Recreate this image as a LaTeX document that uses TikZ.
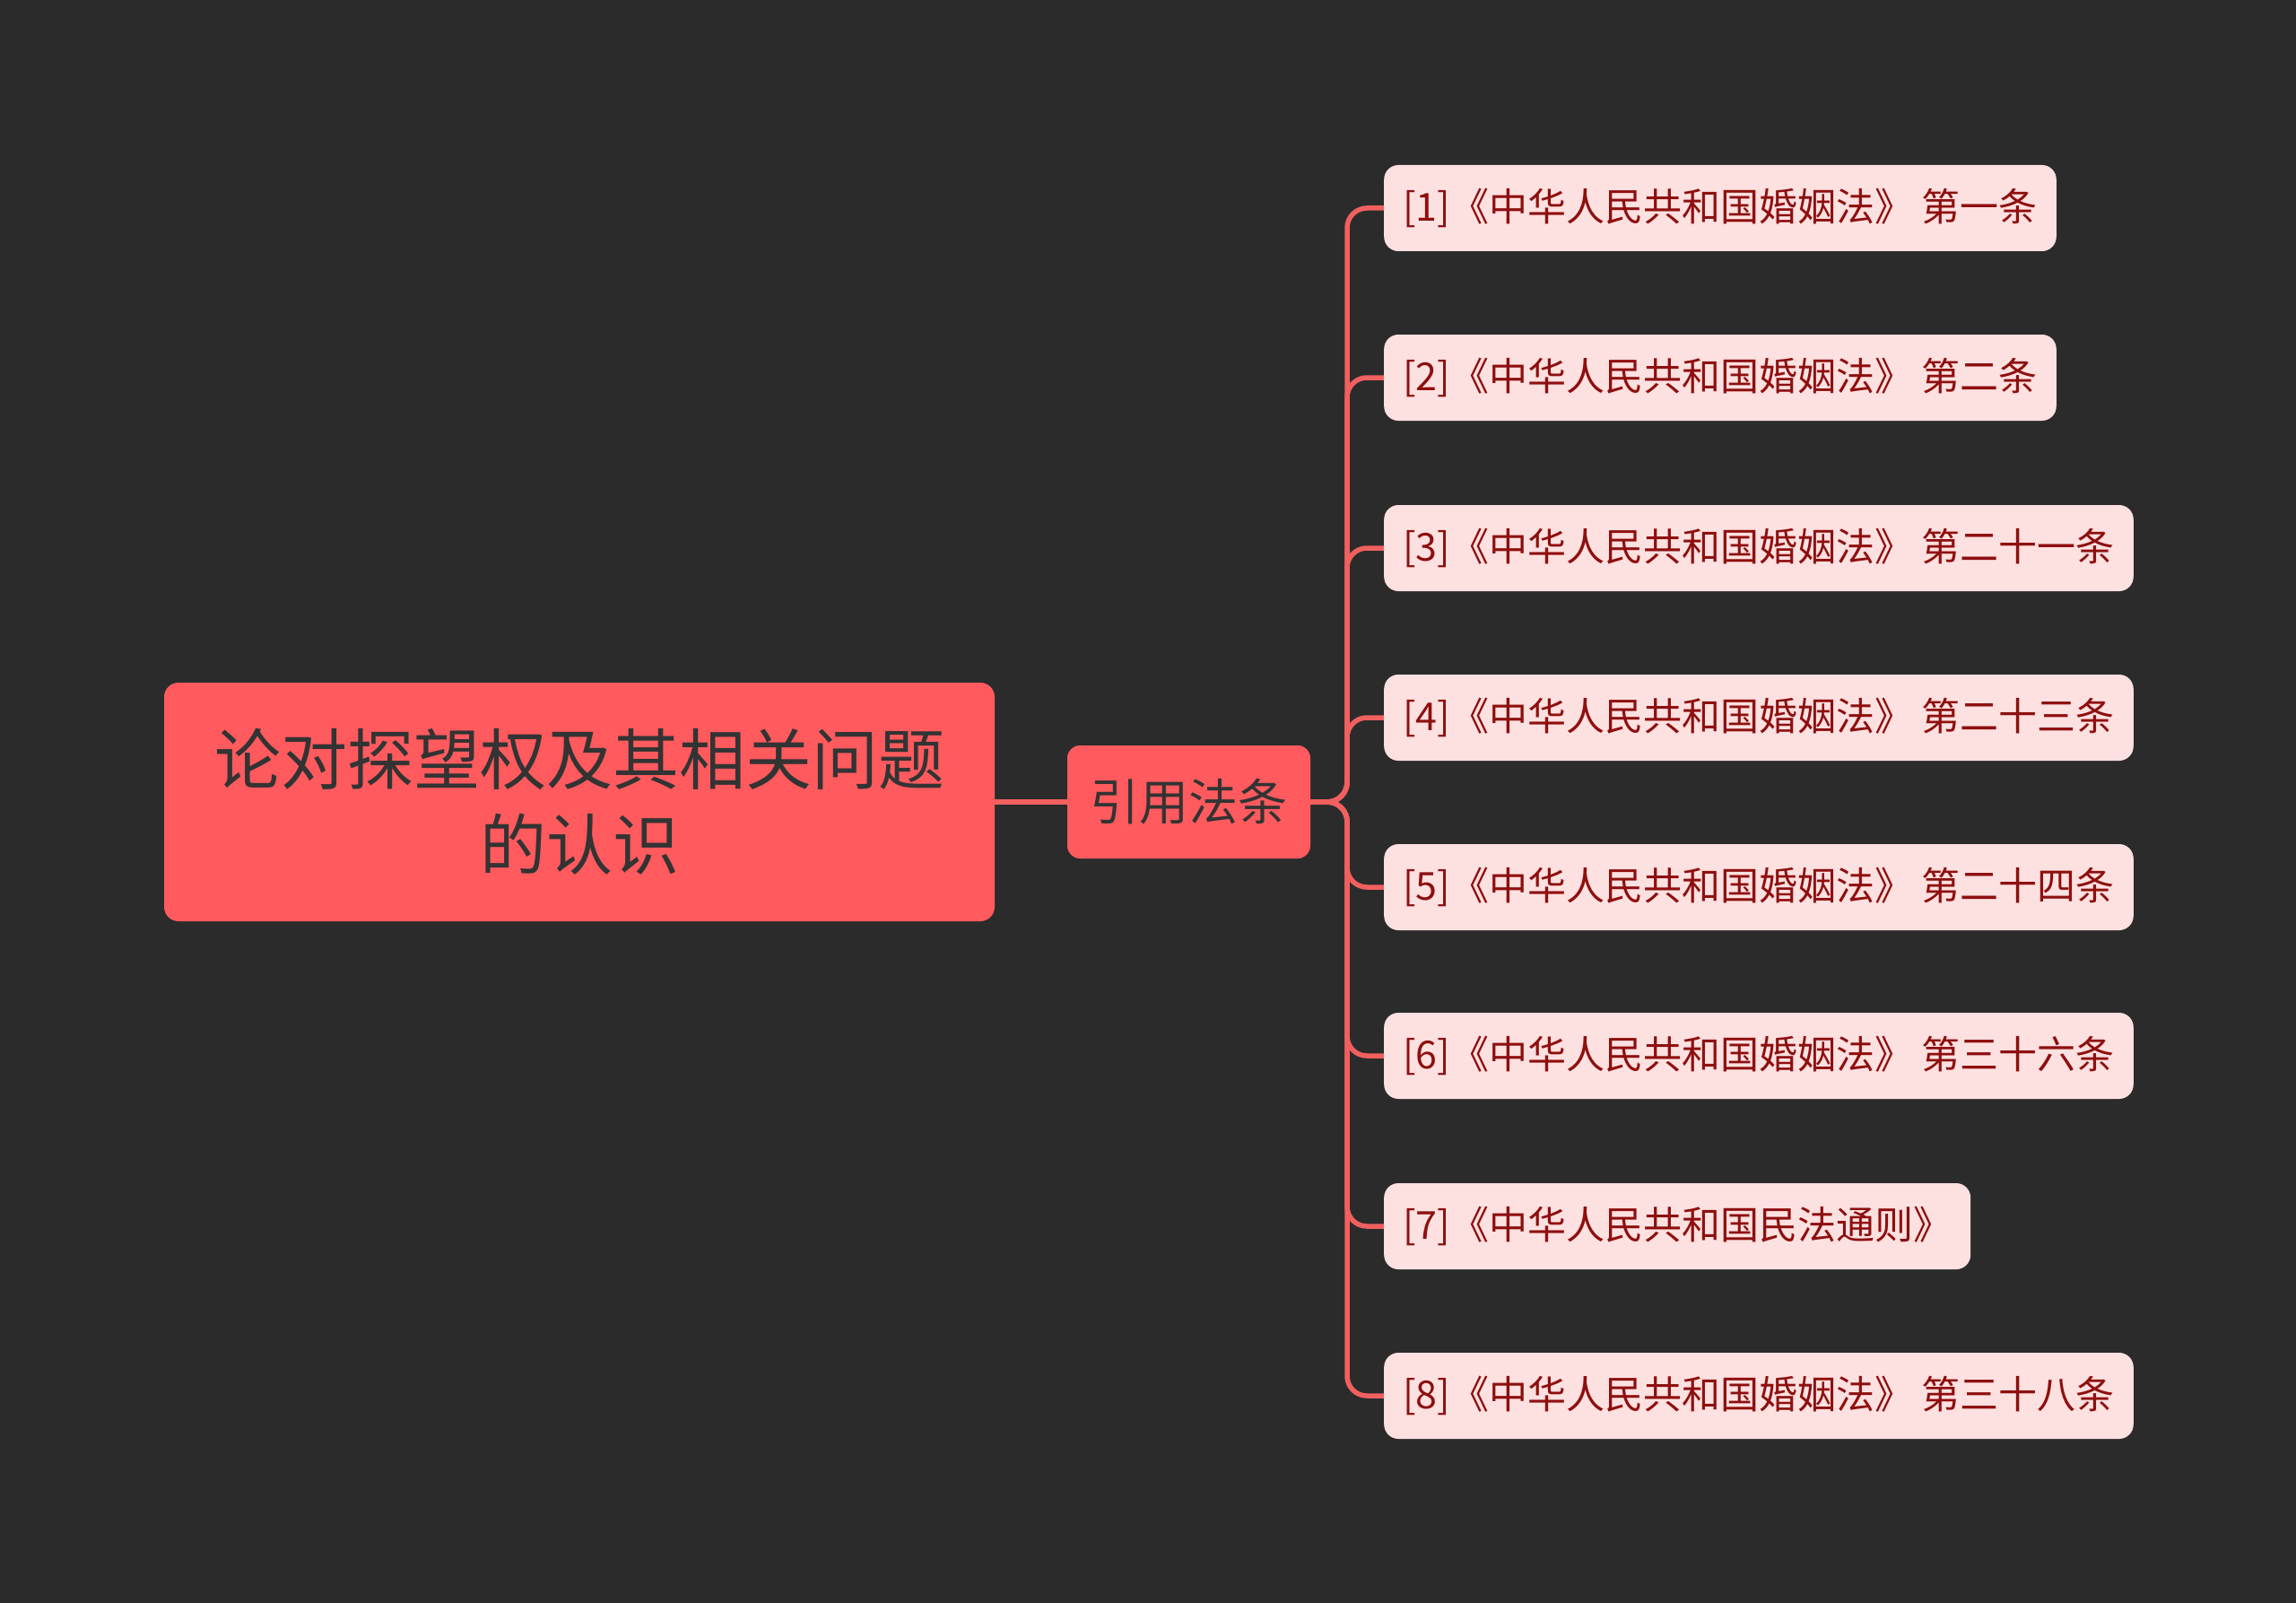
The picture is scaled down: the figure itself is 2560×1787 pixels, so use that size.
\documentclass[tikz,border=0pt]{standalone}
\usepackage{fontspec}
\setmainfont{Noto Sans CJK SC}
\definecolor{bgc}{HTML}{2B2B2B}
\definecolor{rootc}{HTML}{FF5A5E}
\definecolor{linec}{HTML}{F0605F}
\definecolor{leafc}{HTML}{FDE0E0}
\definecolor{leaftxt}{HTML}{8E0F0F}
\definecolor{darktxt}{HTML}{333333}
\pgfdeclarelayer{bg}
\pgfsetlayers{bg,main}
\begin{document}
\begin{tikzpicture}[x=1pt,y=-1pt,
  rootbox/.style={fill=rootc, rounded corners=16pt, draw=none, text=darktxt, align=center,
    minimum width=926pt, minimum height=266pt, inner sep=0pt,
    font=\fontsize{74}{95}\selectfont},
  midbox/.style={fill=rootc, rounded corners=14pt, draw=none, text=darktxt,
    minimum width=271pt, minimum height=126pt, inner sep=0pt,
    font=\fontsize{55}{60}\selectfont},
  leafbox/.style={fill=leafc, rounded corners=16pt, draw=none, text=leaftxt, anchor=west,
    minimum height=96pt, inner xsep=21pt, inner ysep=0pt,
    font=\fontsize{43}{48}\selectfont},
  conn/.style={draw=linec, line width=5.5pt, rounded corners=22pt}
]
\begin{pgfonlayer}{bg}
\fill[bgc] (0,0) rectangle (2560,1787);
\end{pgfonlayer}
\useasboundingbox (0,0) rectangle (2560,1787);

\node[rootbox] (root) at (646,894) {论对探望权及其相关问题\\的认识};
\node[midbox] (mid) at (1325.5,894) {引用法条};

\coordinate (tr) at (1502,894);

\node[leafbox] (l1) at (1543,232)  {[1]《中华人民共和国婚姻法》 第一条};
\node[leafbox] (l2) at (1543,421)  {[2]《中华人民共和国婚姻法》 第二条};
\node[leafbox] (l3) at (1543,611)  {[3]《中华人民共和国婚姻法》 第二十一条};
\node[leafbox] (l4) at (1543,800)  {[4]《中华人民共和国婚姻法》 第二十三条};
\node[leafbox] (l5) at (1543,989)  {[5]《中华人民共和国婚姻法》 第二十四条};
\node[leafbox] (l6) at (1543,1177) {[6]《中华人民共和国婚姻法》 第三十六条};
\node[leafbox] (l7) at (1543,1367) {[7]《中华人民共和国民法通则》};
\node[leafbox] (l8) at (1543,1556) {[8]《中华人民共和国婚姻法》 第三十八条};

\begin{pgfonlayer}{bg}
\draw[conn] (root.east) -- (mid.west);
\foreach \n in {l1,l2,l3,l4,l5,l6,l7,l8}{
  \draw[conn] (mid.east) -- (tr) |- (\n.west);
}
\end{pgfonlayer}
\end{tikzpicture}
\end{document}
